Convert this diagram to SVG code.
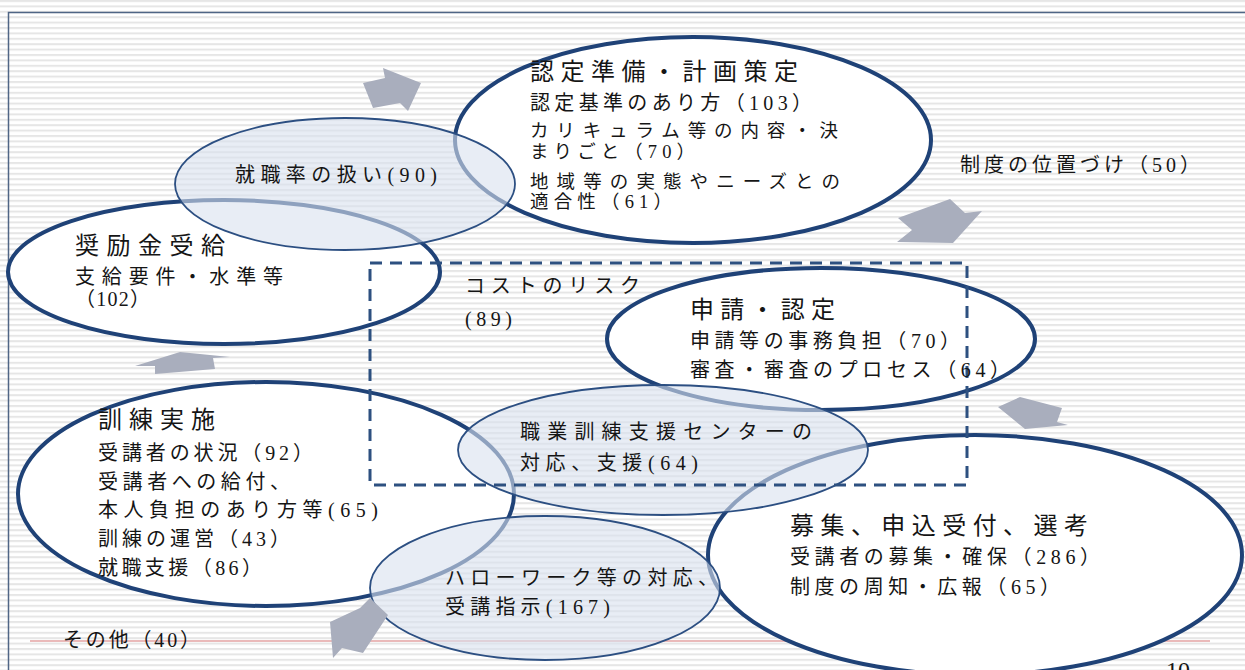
<svg xmlns="http://www.w3.org/2000/svg" width="1245" height="670" viewBox="0 0 1245 670">
<style>
.main{fill:#ffffff;stroke:#1f4277;stroke-width:4}
.sub{fill:#d8e1ee;fill-opacity:0.6;stroke:#2c4f82;stroke-width:1.8}
.arr{fill:#a9aebd}
text{font-family:"Liberation Serif","Noto Sans CJK JP",serif;fill:#151515}
.t{font-size:24px}
.b{font-size:20px}
.s{font-size:18.5px}
</style>
<defs>
<pattern id="stripes" patternUnits="userSpaceOnUse" width="10" height="5.4">
<rect width="10" height="5.4" fill="#ffffff"/>
<rect y="0" width="10" height="2" fill="#e6e6e6"/>
</pattern>
</defs>
<rect width="1245" height="670" fill="url(#stripes)"/>
<path d="M8.5,680 V12.5 H1250" fill="none" stroke="#4f6585" stroke-width="1.5"/>
<line x1="30" y1="641" x2="1210" y2="641" stroke="#e3a3a3" stroke-width="1.5"/>

<g id="node-nintei-junbi"><ellipse class="main" cx="693" cy="140" rx="238" ry="103"/></g>
<g id="node-shoreikin"><ellipse class="main" cx="224" cy="272" rx="216" ry="72"/></g>
<g id="node-shinsei"><ellipse class="main" cx="821" cy="339" rx="214" ry="71"/></g>
<g id="node-kunren"><ellipse class="main" cx="266" cy="494" rx="248" ry="112"/></g>
<g id="node-boshu"><ellipse class="main" cx="975" cy="555" rx="267" ry="120"/></g>

<g id="node-shushokuritsu"><ellipse class="sub" cx="345" cy="184" rx="170" ry="66"/></g>
<g id="node-center"><ellipse class="sub" cx="663" cy="450" rx="205" ry="65"/></g>
<g id="node-hellowork"><ellipse class="sub" cx="545" cy="588" rx="175" ry="72"/></g>

<g id="node-cost"><rect x="370" y="263" width="597" height="222" fill="none" stroke="#2d5080" stroke-width="3" stroke-dasharray="12,8"/></g>

<g id="connectors">
<polygon class="arr" points="363,83 385,78 383,68 421,83 408,111 400,103 373,108"/>
<polygon class="arr" points="898,218 950,199 965,213 982,211 953,243 897,242 912,230"/>
<polygon class="arr" points="998,407 1020,397 1062,408 1057,422 1068,425 1025,429"/>
<polygon class="arr" points="135,366 180,352 230,357 213,358 215,369 155,374 155,366"/>
<polygon class="arr" points="370,598 388,615 363,653 342,648 333,658 330,622 360,608"/>
</g>

<g id="labels">
<text class="t" x="530" y="80" textLength="268" lengthAdjust="spacing">認定準備・計画策定</text>
<text class="b" x="530" y="110" textLength="282" lengthAdjust="spacing">認定基準のあり方（103）</text>
<text class="s" x="530" y="137" textLength="308" lengthAdjust="spacing">カリキュラム等の内容・決</text>
<text class="s" x="530" y="158" textLength="165" lengthAdjust="spacing">まりごと（70）</text>
<text class="s" x="530" y="188" textLength="310" lengthAdjust="spacing">地域等の実態やニーズとの</text>
<text class="s" x="530" y="208" textLength="142" lengthAdjust="spacing">適合性（61）</text>

<text class="b" x="235" y="182" textLength="202" lengthAdjust="spacing">就職率の扱い(90)</text>

<text class="b" x="960" y="172" textLength="240" lengthAdjust="spacing">制度の位置づけ（50）</text>

<text class="t" x="75" y="254" textLength="150" lengthAdjust="spacing">奨励金受給</text>
<text class="b" x="75" y="284" textLength="208" lengthAdjust="spacing">支給要件・水準等</text>
<text class="b" x="75" y="306" textLength="75" lengthAdjust="spacing">（102）</text>

<text class="b" x="465" y="293" textLength="175" lengthAdjust="spacing">コストのリスク</text>
<text class="b" x="465" y="326" textLength="47" lengthAdjust="spacing">(89)</text>

<text class="t" x="690" y="318" textLength="145" lengthAdjust="spacing">申請・認定</text>
<text class="b" x="690" y="348" textLength="270" lengthAdjust="spacing">申請等の事務負担（70）</text>
<text class="b" x="690" y="377" textLength="320" lengthAdjust="spacing">審査・審査のプロセス（64）</text>

<text class="b" x="520" y="439" textLength="292" lengthAdjust="spacing">職業訓練支援センターの</text>
<text class="b" x="520" y="470" textLength="178" lengthAdjust="spacing">対応、支援(64)</text>

<text class="t" x="98" y="428" textLength="117" lengthAdjust="spacing">訓練実施</text>
<text class="b" x="98" y="460" textLength="215" lengthAdjust="spacing">受講者の状況（92）</text>
<text class="b" x="98" y="489" textLength="192" lengthAdjust="spacing">受講者への給付、</text>
<text class="b" x="98" y="517" textLength="280" lengthAdjust="spacing">本人負担のあり方等(65)</text>
<text class="b" x="98" y="546" textLength="192" lengthAdjust="spacing">訓練の運営（43）</text>
<text class="b" x="98" y="575" textLength="164" lengthAdjust="spacing">就職支援（86）</text>

<text class="t" x="790" y="534" textLength="298" lengthAdjust="spacing">募集、申込受付、選考</text>
<text class="b" x="790" y="564" textLength="310" lengthAdjust="spacing">受講者の募集・確保（286）</text>
<text class="b" x="790" y="594" textLength="270" lengthAdjust="spacing">制度の周知・広報（65）</text>

<text class="b" x="445" y="585" textLength="273" lengthAdjust="spacing">ハローワーク等の対応、</text>
<text class="b" x="445" y="614" textLength="165" lengthAdjust="spacing">受講指示(167)</text>

<text class="b" x="63" y="647" textLength="137" lengthAdjust="spacing">その他（40）</text>
<text x="1166" y="678" style="font-size:24px">10</text>
</g>
</svg>
